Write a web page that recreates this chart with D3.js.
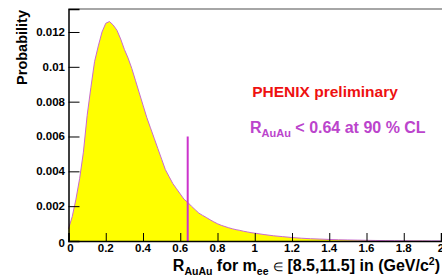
<!DOCTYPE html>
<html>
<head>
<meta charset="utf-8">
<script src="https://cdn.jsdelivr.net/npm/d3@7"></script>
<style>
  body { margin: 0; background: #fff; }
  text { font-family: "Liberation Sans", Arial, sans-serif; font-weight: bold; }
</style>
</head>
<body>
<div id="viz"></div>
<script>
// histogram: bin centre (R_AuAu) and probability
var rValues = [0.00, 0.02, 0.04, 0.06, 0.08, 0.10, 0.12, 0.14, 0.16, 0.18,
               0.20, 0.22, 0.24, 0.26, 0.28, 0.30, 0.32, 0.34, 0.36, 0.38,
               0.40, 0.42, 0.44, 0.46, 0.48, 0.50, 0.52, 0.54, 0.56, 0.58,
               0.60, 0.62, 0.64, 0.66, 0.68, 0.70, 0.72, 0.74, 0.76, 0.78,
               0.80, 0.82, 0.84, 0.86, 0.88, 0.90, 0.92, 0.94, 0.96, 0.98,
               1.00, 1.05, 1.10, 1.15, 1.20, 1.25, 1.30, 1.35, 1.40, 1.45,
               1.50, 1.55, 1.60, 1.65, 1.70, 1.75, 1.80, 1.85, 1.90, 1.95, 2.00];
var probValues = [0.0007, 0.0014, 0.0024, 0.0036, 0.0051, 0.0072, 0.0088, 0.0103, 0.0112, 0.0120,
                  0.0125, 0.0126, 0.0124, 0.0121, 0.0116, 0.0110, 0.0105, 0.0099, 0.0092, 0.0085,
                  0.0078, 0.0071, 0.0065, 0.0059, 0.0053, 0.0047, 0.0041, 0.0037, 0.0033, 0.0030,
                  0.0027, 0.0024, 0.00222, 0.0020, 0.0018, 0.0016, 0.00147, 0.00135, 0.00122, 0.0011,
                  0.00099, 0.0009, 0.00083, 0.00076, 0.0007, 0.00065, 0.00061, 0.00056, 0.00052, 0.00048,
                  0.00045, 0.00037, 0.0003, 0.00025, 0.0002, 0.00016, 0.00013, 0.00011, 0.00009, 0.00007,
                  0.00006, 0.00005, 0.00004, 0.00003, 0.000025, 0.00002, 0.000015, 0.00001, 0.00001, 0.000005, 0.000005];
var limitValue = 0.64;
var limitTop = 0.006;
var xTicks = [0, 0.2, 0.4, 0.6, 0.8, 1, 1.2, 1.4, 1.6, 1.8, 2];
var yTicks = [0, 0.002, 0.004, 0.006, 0.008, 0.01, 0.012];

var canw = 442, canh = 277;
var padL = 68.5, padR = 441, padT = 9, padB = 241;

var svg = d3.select("#viz").append("svg")
    .attr("width", canw)
    .attr("height", canh);

var x = d3.scaleLinear().domain([0, 2]).range([padL, padR]);
var y = d3.scaleLinear().domain([0, 0.01332]).range([padB, padT]);

var pts = rValues.map(function(r, i){ return [r, probValues[i]]; });

// filled histogram
svg.append("path")
    .datum(pts)
    .attr("fill", "#ffff00")
    .attr("d", d3.area()
        .x(function(d){ return x(d[0]); })
        .y0(y(0))
        .y1(function(d){ return y(d[1]); }));

svg.append("path")
    .datum(pts)
    .attr("fill", "none")
    .attr("stroke", "#c86ad0")
    .attr("stroke-width", 1)
    .attr("d", d3.line()
        .x(function(d){ return x(d[0]); })
        .y(function(d){ return y(d[1]); }));

// 90% CL limit line
svg.append("line")
    .attr("x1", x(limitValue)).attr("x2", x(limitValue))
    .attr("y1", y(0)).attr("y2", y(limitTop))
    .attr("stroke", "#cc33cc")
    .attr("stroke-width", 2);

// frame
svg.append("line")
    .attr("x1", padL).attr("x2", canw)
    .attr("y1", padT).attr("y2", padT)
    .attr("stroke", "#888")
    .attr("stroke-width", 1.5);

// x axis, ticks pointing inward
var xAxis = d3.axisTop(x)
    .tickValues(xTicks)
    .tickSize(8)
    .tickFormat("");
var xMinor = d3.axisTop(x)
    .tickValues(d3.range(0, 41).map(function(i){ return i * 0.05; }))
    .tickSize(4)
    .tickFormat("");
var gx = svg.append("g").attr("transform", "translate(0," + padB + ")");
gx.call(xMinor);
gx.call(xAxis);

// y axis, ticks pointing inward
var yAxis = d3.axisRight(y)
    .tickValues(yTicks)
    .tickSize(11)
    .tickFormat("");
var yMinor = d3.axisRight(y)
    .tickValues(d3.range(0, 34).map(function(i){ return i * 0.0004; }))
    .tickSize(5.5)
    .tickFormat("");
var gy = svg.append("g").attr("transform", "translate(" + padL + ",0)");
gy.call(yMinor);
gy.call(yAxis);

svg.selectAll(".domain").attr("stroke", "#000").attr("stroke-width", 1.5);
svg.selectAll(".tick line").attr("stroke", "#000").attr("stroke-width", 1);

// tick labels
svg.append("g").selectAll("text")
    .data(xTicks)
    .enter().append("text")
    .attr("x", function(d){ return x(d) + (d === 0 ? 2 : 0); })
    .attr("y", 252)
    .attr("text-anchor", "middle")
    .attr("font-size", 11.5)
    .text(function(d){ return d3.format("")(d); });

svg.append("g").selectAll("text")
    .data(yTicks)
    .enter().append("text")
    .attr("x", 65)
    .attr("y", function(d){ return y(d) + (d === 0 ? 6 : 4); })
    .attr("text-anchor", "end")
    .attr("font-size", 11.5)
    .text(function(d){ return d3.format("")(d); });

// axis titles
svg.append("text")
    .attr("transform", "translate(27,10) rotate(-90)")
    .attr("text-anchor", "end")
    .attr("font-size", 14.5)
    .text("Probability");

var xt = svg.append("text")
    .attr("x", 440).attr("y", 271)
    .attr("text-anchor", "end")
    .attr("font-size", 16);
xt.append("tspan").text("R");
xt.append("tspan").attr("font-size", 10.5).attr("dy", 4).text("AuAu");
xt.append("tspan").attr("dy", -4).text(" for m");
xt.append("tspan").attr("font-size", 10.5).attr("dy", 4).text("ee");
xt.append("tspan").attr("dy", -4).text(" ");
xt.append("tspan").attr("font-size", 12).attr("font-weight", "normal").text("\u2208");
xt.append("tspan").text(" [8.5,11.5] in (GeV/c");
xt.append("tspan").attr("font-size", 10.5).attr("dy", -6).text("2");
xt.append("tspan").attr("dy", 6).text(")");

// annotations
svg.append("text")
    .attr("x", 325).attr("y", 97)
    .attr("text-anchor", "middle")
    .attr("font-size", 15.5)
    .attr("fill", "#ee1111")
    .text("PHENIX preliminary");

var lt = svg.append("text")
    .attr("x", 250).attr("y", 133)
    .attr("font-size", 16)
    .attr("fill", "#bb44cc");
lt.append("tspan").text("R");
lt.append("tspan").attr("font-size", 11).attr("dy", 4).text("AuAu");
lt.append("tspan").attr("dy", -4).text(" < 0.64 at 90 % CL");
</script>
</body>
</html>
